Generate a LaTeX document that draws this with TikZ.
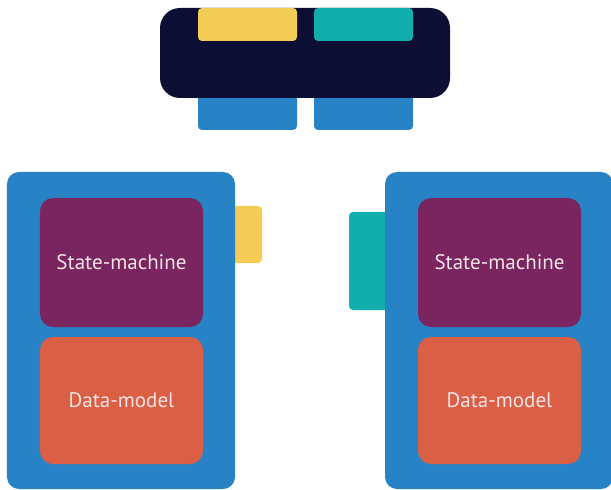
\documentclass[tikz,border=0pt]{standalone}
\usepackage{fontspec}
\setmainfont{PT Sans}
\definecolor{navy}{HTML}{0C0F33}
\definecolor{tabyellow}{HTML}{F4CB55}
\definecolor{tabteal}{HTML}{12ADAD}
\definecolor{shellblue}{HTML}{2783C6}
\definecolor{statepurple}{HTML}{7A255F}
\definecolor{dataorange}{HTML}{DB5F45}
\definecolor{labeltext}{HTML}{F2E4E6}
\tikzset{
  block/.style={inner sep=0pt, outer sep=0pt, draw=none},
  port/.style={block, rounded corners=4bp},
  shell/.style={block, fill=shellblue, rounded corners=12bp},
  part/.style={block, rounded corners=13bp, minimum width=163bp, text=labeltext,
    font=\fontsize{21bp}{24bp}\selectfont},
}
\begin{document}
\begin{tikzpicture}[x=1bp, y=-1bp]
\useasboundingbox (0,0) rectangle (611,490);

% central hub with its ports
\node[port, fill=shellblue, minimum width=99bp, minimum height=42bp] (outL) at (247.5,109) {};
\node[port, fill=shellblue, minimum width=99bp, minimum height=42bp] (outR) at (363.5,109) {};
\node[block, fill=navy, rounded corners=20bp, minimum width=290bp, minimum height=90bp] (hub) at (305,53) {};
\node[port, fill=tabyellow, minimum width=99bp, minimum height=33bp] (inL) at (247.5,24.5) {};
\node[port, fill=tabteal, minimum width=99bp, minimum height=33bp] (inR) at (363.5,24.5) {};

% left component
\node[port, fill=tabyellow, minimum width=37bp, minimum height=57bp] (plugL) at (243.5,234.5) {};
\node[shell, minimum width=228bp, minimum height=317bp] (compL) at (121,330.5) {};
\node[part, fill=statepurple, minimum height=129bp] (smL) at (121.5,262.5) {State-machine};
\node[part, fill=dataorange, minimum height=127bp] (dmL) at (121.5,400.5) {Data-model};

% right component
\node[port, fill=tabteal, minimum width=46bp, minimum height=98bp] (plugR) at (372,261) {};
\node[shell, minimum width=228bp, minimum height=317bp] (compR) at (499,330.5) {};
\node[part, fill=statepurple, minimum height=129bp] (smR) at (499.5,262.5) {State-machine};
\node[part, fill=dataorange, minimum height=127bp] (dmR) at (499.5,400.5) {Data-model};
\end{tikzpicture}
\end{document}
